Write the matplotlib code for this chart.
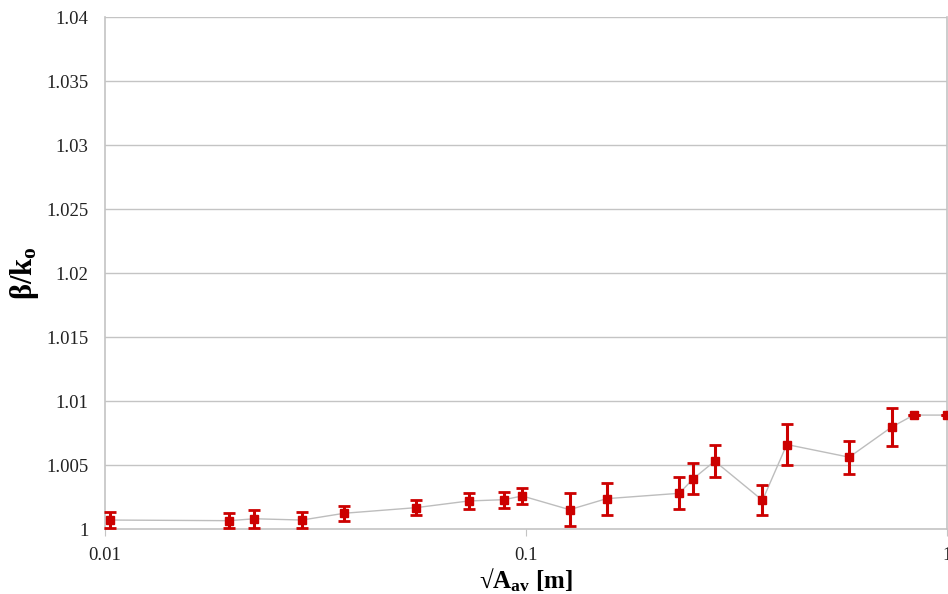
import matplotlib.pyplot as plt
from matplotlib.ticker import FixedLocator, FixedFormatter, NullLocator

# data
sqrt_area = [0.01028, 0.01975, 0.02265, 0.02937, 0.03702, 0.05491, 0.0731, 0.0886,
             0.098, 0.1269, 0.1554, 0.2313, 0.2498, 0.2808, 0.3645, 0.4164,
             0.5856, 0.7385, 0.8334, 1.0]
beta_k0 = [1.0007, 1.00065, 1.0008, 1.0007, 1.00123, 1.00167, 1.00219, 1.00229,
           1.00258, 1.00151, 1.00237, 1.00279, 1.00394, 1.0053, 1.00224, 1.0066,
           1.00561, 1.00796, 1.0089, 1.0089]
beta_err = [0.00066, 0.0006, 0.0007, 0.0006, 0.0006, 0.0006, 0.0006, 0.00063,
            0.00063, 0.0013, 0.00126, 0.00124, 0.00124, 0.00125, 0.00116, 0.0016,
            0.0013, 0.00146, 0.0, 0.0]

y_ticks = [1, 1.005, 1.01, 1.015, 1.02, 1.025, 1.03, 1.035, 1.04]
y_labels = ['1', '1.005', '1.01', '1.015', '1.02', '1.025', '1.03', '1.035', '1.04']
x_ticks = [0.01, 0.1, 1]
x_labels = ['0.01', '0.1', '1']

plt.rcParams['font.family'] = ['Liberation Serif', 'DejaVu Serif']
plt.rcParams['mathtext.fontset'] = 'custom'
plt.rcParams['mathtext.rm'] = 'Liberation Serif'
plt.rcParams['mathtext.bf'] = 'Liberation Serif:bold'

fig = plt.figure(figsize=(9.48, 5.94), dpi=100)
ax = fig.add_axes([105 / 948, 1 - 529 / 594, 842 / 948, 512 / 594])

grid_col = '#c4c4c4'
ax.set_xscale('log')
ax.set_xlim(0.01, 1)
ax.set_ylim(1, 1.04)

for y in y_ticks[1:]:
    ax.axhline(y, color=grid_col, lw=1.0, zorder=0)

ax.plot(sqrt_area, beta_k0, color='#bdbdbd', lw=1.0, zorder=1, clip_on=False)
ax.errorbar(sqrt_area, beta_k0, yerr=beta_err, fmt='s', color='#cc0000',
            ms=5.5, elinewidth=2.2, capsize=4, capthick=2.0, zorder=3,
            clip_on=False)

ax.spines['top'].set_visible(False)
for side in ['left', 'bottom', 'right']:
    ax.spines[side].set_color(grid_col)
    ax.spines[side].set_linewidth(1.2)

ax.yaxis.set_major_locator(FixedLocator(y_ticks))
ax.yaxis.set_major_formatter(FixedFormatter(y_labels))
ax.xaxis.set_major_locator(FixedLocator(x_ticks))
ax.xaxis.set_major_formatter(FixedFormatter(x_labels))
ax.xaxis.set_minor_locator(NullLocator())
ax.tick_params(axis='y', length=0, pad=12, labelsize=13.5, labelcolor='#222222')
ax.tick_params(axis='x', length=5, color=grid_col, pad=8, labelsize=13.5,
               labelcolor='#222222')

ax.set_ylabel(r'$\mathbf{\beta/k_o}$', fontsize=22, labelpad=4)
ax.set_xlabel('√' + r'$\mathbf{A_{av}}$' + ' [m]', fontsize=18,
              fontweight='bold', labelpad=2)

fig.savefig('out.png', dpi=100)
